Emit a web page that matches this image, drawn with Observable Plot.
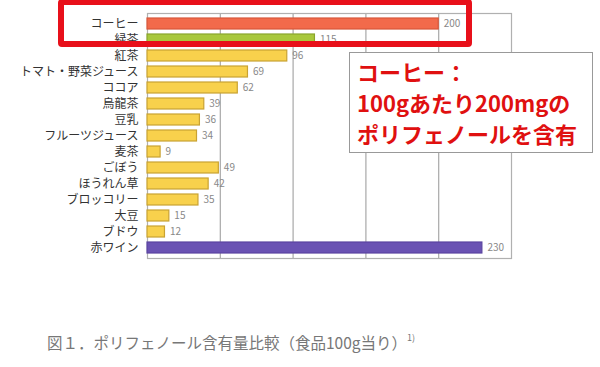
<!DOCTYPE html>
<html><head><meta charset="utf-8">
<script src="https://cdn.jsdelivr.net/npm/d3@7"></script>
<script src="https://cdn.jsdelivr.net/npm/@observablehq/plot@0.6"></script>
<style>
body{margin:0;background:#fff;width:600px;height:367px;overflow:hidden;position:relative;font-family:"Noto Sans CJK JP","Noto Sans",sans-serif;}
#chart{position:absolute;left:0;top:0;line-height:0;}
#hl{position:absolute;left:58px;top:-1px;width:402px;height:36px;border:6.5px solid #e8101a;border-radius:4px;}
#note{position:absolute;left:349px;top:52px;width:244px;height:101px;border:1px solid #999;background:#fff;color:#e01010;font-weight:bold;font-size:22px;line-height:31px;padding:3px 0 0 7px;box-sizing:border-box;white-space:nowrap;}
#cap{position:absolute;left:47px;top:331px;color:#777;font-size:15.5px;white-space:nowrap;}
#cap sup{font-size:9px;vertical-align:8px;}
</style></head>
<body>
<div id="chart"></div>
<div id="hl"></div>
<div id="note">コーヒー：<br>100gあたり200mgの<br>ポリフェノールを含有</div>
<div id="cap">図１．ポリフェノール含有量比較（食品100g当り）<sup>1)</sup></div>
<script>
const foods = ["コーヒー","緑茶","紅茶","トマト・野菜ジュース","ココア","烏龍茶","豆乳","フルーツジュース","麦茶","ごぼう","ほうれん草","ブロッコリー","大豆","ブドウ","赤ワイン"];
const values = [200,115,96,69,62,39,36,34,9,49,42,35,15,12,230];
const xTicks = [0,50,100,150,200,250];

const data = foods.map((f,i)=>({food:f, value:values[i]}));
const fillOf = f => f==="コーヒー" ? "#f26a4b" : f==="緑茶" ? "#a9c83c" : f==="赤ワイン" ? "#6a52b3" : "#f8d14c";
const strokeOf = f => f==="コーヒー" ? "#d8573a" : f==="緑茶" ? "#8aa52c" : f==="赤ワイン" ? "#5a44a0" : "#c9a232";

const chart = Plot.plot({
  width: 600, height: 270,
  marginLeft: 147, marginRight: 89, marginTop: 13, marginBottom: 12,
  style: {fontFamily: '"Noto Sans CJK JP","Noto Sans",sans-serif', background: "transparent"},
  x: {domain: [0,250], axis: null},
  y: {domain: foods, paddingInner: 0.33, paddingOuter: 0.12, axis: null},
  marks: [
    Plot.ruleX(xTicks.slice(1,-1), {stroke: "#a8a8a8", strokeWidth: 1.2}),
    Plot.frame({stroke: "#b0b0b0", strokeWidth: 1.2}),
    Plot.barX(data, {x: "value", y: "food", fill: d=>fillOf(d.food), stroke: d=>strokeOf(d.food), strokeWidth: 1.2}),
    Plot.text(data, {x: "value", y: "food", text: d=>String(d.value), dx: 5, textAnchor: "start", fill: "#888", fontSize: 10}),
    Plot.axisY({tickSize: 0, tickPadding: 9, fontSize: 12, color: "#333", label: null})
  ]
});
document.getElementById("chart").appendChild(chart);
</script>
</body></html>
